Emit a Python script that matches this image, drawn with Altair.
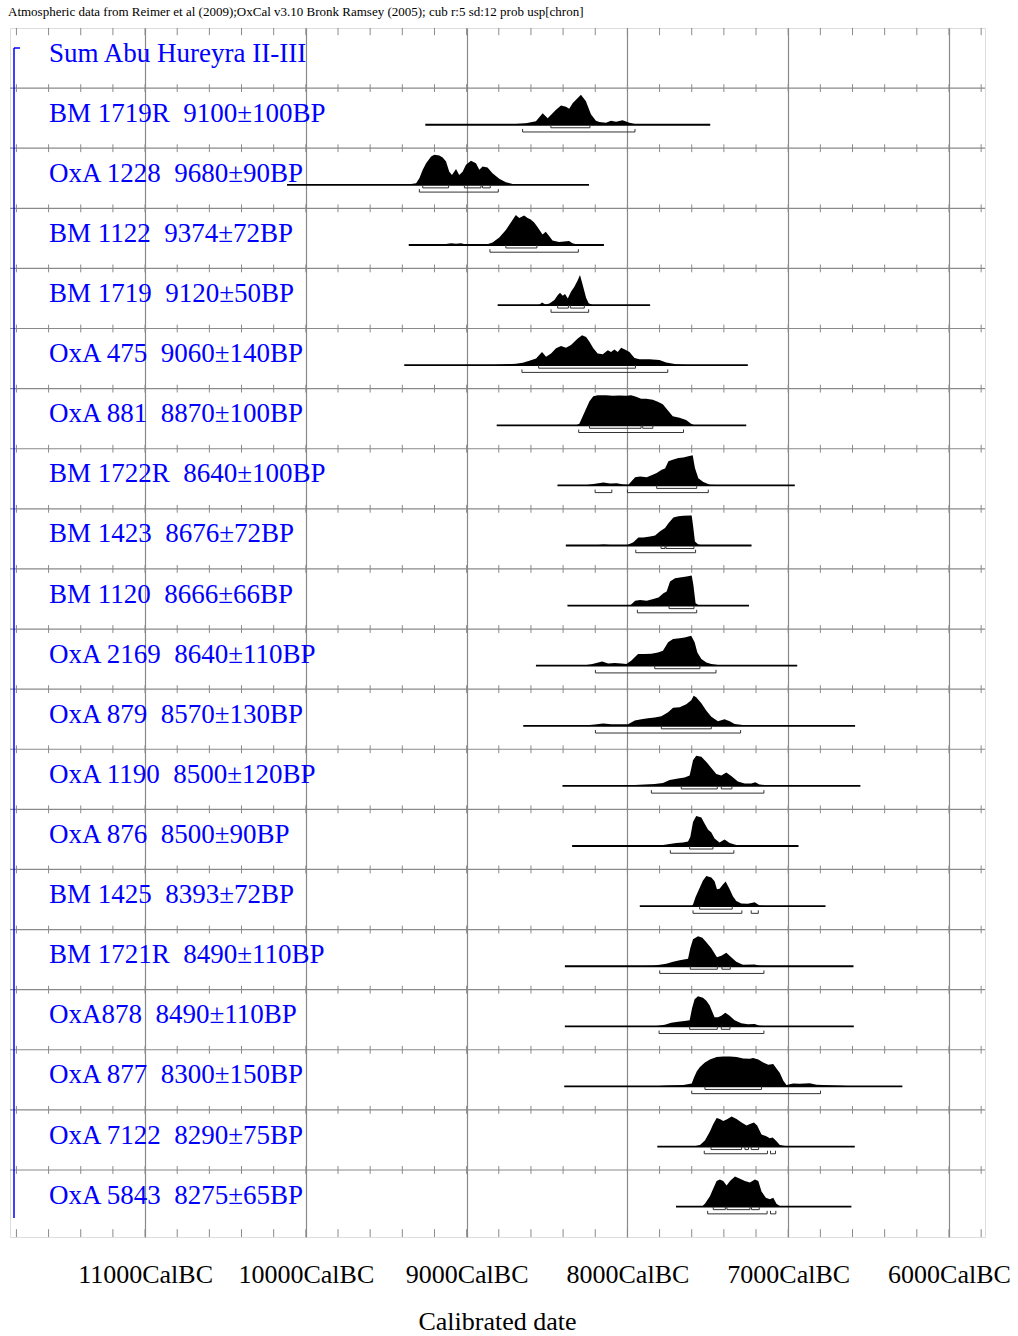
import altair as alt
import pandas as pd

SERIF = "Liberation Serif"
BLUE = "#0000ff"
GRID = "#8a8a8a"

header = ("Atmospheric data from Reimer et al (2009);OxCal v3.10 Bronk Ramsey (2005); "
          "cub r:5 sd:12 prob usp[chron]")

labels = [
    "Sum Abu Hureyra II-III",
    "BM 1719R\u00a0\u00a09100±100BP",
    "OxA 1228\u00a0\u00a09680±90BP",
    "BM 1122\u00a0\u00a09374±72BP",
    "BM 1719\u00a0\u00a09120±50BP",
    "OxA 475\u00a0\u00a09060±140BP",
    "OxA 881\u00a0\u00a08870±100BP",
    "BM 1722R\u00a0\u00a08640±100BP",
    "BM 1423\u00a0\u00a08676±72BP",
    "BM 1120\u00a0\u00a08666±66BP",
    "OxA 2169\u00a0\u00a08640±110BP",
    "OxA 879\u00a0\u00a08570±130BP",
    "OxA 1190\u00a0\u00a08500±120BP",
    "OxA 876\u00a0\u00a08500±90BP",
    "BM 1425\u00a0\u00a08393±72BP",
    "BM 1721R\u00a0\u00a08490±110BP",
    "OxA878\u00a0\u00a08490±110BP",
    "OxA 877\u00a0\u00a08300±150BP",
    "OxA 7122\u00a0\u00a08290±75BP",
    "OxA 5843\u00a0\u00a08275±65BP",
]

# calendar axis (years BC)
major_bc = [11000, 10000, 9000, 8000, 7000, 6000]
minor_bc = list(range(11800, 5700, -200))
view_bc = [11840, 5776]

# ---- calibrated probability curves: years BC, relative probability ----
bm1719r_bc = [8800, 8735, 8631, 8569, 8527, 8496, 8444, 8413, 8382, 8362, 8341, 8289, 8258,
              8227, 8196, 8175, 8133, 8102, 8071, 8030, 7988, 7947, 7843]
bm1719r_p = [0, .01, .05, .12, .38, .22, .50, .64, .60, .53, .72, 1.0, .78,
             .35, .13, .09, .07, .13, .10, .15, .07, .02, 0]
bm1719r_span = [9257, 7485]
bm1719r_r68 = [(8476, 8233)]
bm1719r_r95 = [(8652, 7953)]

oxa1228_bc = [9377, 9314, 9294, 9273, 9252, 9221, 9201, 9170, 9149, 9128, 9108, 9091, 9066,
              9046, 9025, 9004, 8973, 8942, 8921, 8901, 8870, 8839, 8797, 8756, 8714, 8652]
oxa1228_p = [0, .05, .22, .50, .72, .94, 1.0, .98, .91, .78, .44, .33, .53,
             .33, .44, .67, .80, .72, .50, .61, .58, .39, .20, .09, .03, 0]
oxa1228_span = [10117, 8239]
oxa1228_r68 = [(9273, 9112), (9014, 8911), (8901, 8853)]
oxa1228_r95 = [(9294, 8803)]

bm1122_bc = [9160, 9128, 9097, 9066, 9035, 9004, 8960, 8921, 8880, 8839, 8797, 8756, 8725,
             8694, 8673, 8642, 8621, 8601, 8580, 8559, 8528, 8508, 8487, 8466, 8425, 8363,
             8342, 8301]
bm1122_p = [0, .03, .06, .04, .06, .02, .01, .03, .01, .08, .25, .50, .75,
            1.0, .90, .98, .90, .85, .75, .60, .35, .44, .30, .15, .10, .13,
            .06, 0]
bm1122_span = [9360, 8146]
bm1122_r68 = [(8756, 8563)]
bm1122_r95 = [(8855, 8305)]

bm1719_bc = [8560, 8548, 8531, 8510, 8485, 8454, 8434, 8419, 8402, 8388, 8371, 8351, 8330,
             8309, 8295, 8278, 8257, 8241, 8216]
bm1719_p = [0, .01, .09, .02, .05, .17, .33, .41, .31, .37, .22, .44, .61,
            .83, 1.0, .67, .24, .06, 0]
bm1719_span = [8807, 7859]
bm1719_r68 = [(8434, 8367), (8355, 8268)]
bm1719_r95 = [(8475, 8241)]

oxa475_bc = [8859, 8776, 8693, 8651, 8610, 8568, 8531, 8506, 8475, 8444, 8413, 8382, 8351,
             8330, 8309, 8282, 8257, 8236, 8212, 8185, 8153, 8122, 8102, 8081, 8060, 8039,
             8019, 7987, 7956, 7925, 7863, 7801, 7759, 7697, 7614]
oxa475_p = [0, .02, .05, .08, .15, .22, .44, .28, .39, .56, .64, .58, .67,
            .78, .89, 1.0, .94, .78, .56, .39, .36, .50, .44, .52, .44, .58,
            .53, .44, .24, .20, .20, .17, .09, .03, 0]
oxa475_span = [9388, 7251]
oxa475_r68 = [(8552, 7950)]
oxa475_r95 = [(8656, 7749)]

oxa881_bc = [8319, 8299, 8278, 8257, 8236, 8212, 8185, 8133, 8091, 8050, 8008, 7977, 7946,
             7915, 7884, 7842, 7811, 7780, 7749, 7718, 7676, 7635, 7604, 7583]
oxa881_p = [0, .05, .30, .55, .80, .97, 1.0, 1.0, .98, .99, .98, 1.0, .95,
            .88, .88, .85, .78, .70, .50, .30, .25, .18, .05, 0]
oxa881_span = [8813, 7261]
oxa881_r68 = [(8236, 7915), (7905, 7842)]
oxa881_r95 = [(8303, 7651)]

bm1722r_bc = [8273, 8211, 8149, 8108, 8066, 8025, 7994, 7973, 7952, 7921, 7880, 7839, 7818,
              7787, 7766, 7745, 7714, 7683, 7652, 7621, 7594, 7580, 7559, 7528, 7487, 7445,
              7362]
bm1722r_p = [0, .05, .10, .06, .07, .03, .02, .15, .27, .30, .27, .36, .41,
             .52, .56, .80, .86, .91, .93, .97, 1.0, .58, .24, .11, .02, .01,
             0]
bm1722r_span = [8435, 6959]
bm1722r_r68 = [(7818, 7569)]
bm1722r_r95 = [(8201, 8097), (8000, 7497)]

bm1423_bc = [8211, 8149, 8087, 8004, 7963, 7932, 7901, 7859, 7828, 7797, 7766, 7745, 7714,
             7683, 7652, 7611, 7600, 7590, 7580, 7559, 7528]
bm1423_p = [0, .03, .01, .01, .11, .27, .27, .30, .33, .47, .58, .74, .93,
            .97, .99, 1.0, 1.0, .58, .13, .03, 0]
bm1423_span = [8383, 7228]
bm1423_r68 = [(7791, 7766), (7760, 7586)]
bm1423_r95 = [(7948, 7576)]

bm1120_bc = [7983, 7952, 7921, 7880, 7839, 7807, 7776, 7756, 7735, 7704, 7663, 7632, 7600,
             7590, 7576, 7559, 7528]
bm1120_p = [0, .16, .19, .16, .22, .27, .41, .47, .80, .91, .94, .97, 1.0,
            .69, .08, .02, 0]
bm1120_span = [8373, 7244]
bm1120_r68 = [(7741, 7586)]
bm1120_r95 = [(7938, 7569)]

oxa2169_bc = [8286, 8224, 8157, 8120, 8079, 8037, 8006, 7975, 7934, 7892, 7851, 7810, 7779,
              7747, 7716, 7675, 7644, 7603, 7582, 7565, 7540, 7509, 7478, 7437, 7375]
oxa2169_p = [0, .05, .14, .07, .09, .07, .06, .17, .39, .39, .40, .44, .50,
             .78, .89, .91, .94, 1.0, .78, .44, .22, .11, .06, .02, 0]
oxa2169_span = [8569, 6944]
oxa2169_r68 = [(7830, 7549)]
oxa2169_r95 = [(8199, 7449)]

oxa879_bc = [8286, 8203, 8151, 8099, 8037, 7996, 7954, 7913, 7872, 7830, 7789, 7747, 7716,
             7675, 7634, 7603, 7588, 7572, 7540, 7509, 7478, 7437, 7396, 7364, 7333, 7271,
             7168]
oxa879_p = [0, .04, .08, .05, .05, .05, .18, .22, .25, .28, .32, .45, .60,
            .62, .72, .85, 1.0, .95, .75, .50, .30, .15, .22, .15, .06, .02,
            0]
oxa879_span = [8648, 6584]
oxa879_r68 = [(7789, 7478)]
oxa879_r95 = [(8199, 7296)]

oxa1190_bc = [8079, 7954, 7830, 7779, 7737, 7685, 7644, 7613, 7592, 7572, 7540, 7509, 7478,
              7447, 7416, 7385, 7354, 7313, 7271, 7230, 7205, 7178, 7126, 7044]
oxa1190_p = [0, .03, .06, .10, .20, .25, .28, .35, .85, 1.0, .97, .80, .60,
             .40, .35, .45, .33, .15, .08, .08, .12, .05, .02, 0]
oxa1190_span = [8404, 6551]
oxa1190_r68 = [(7665, 7441), (7416, 7350)]
oxa1190_r95 = [(7851, 7151)]

oxa876_bc = [7820, 7758, 7696, 7654, 7623, 7609, 7592, 7572, 7540, 7520, 7499, 7478, 7458,
             7427, 7396, 7364, 7323, 7261, 7178]
oxa876_p = [0, .05, .10, .12, .15, .30, .80, 1.0, .95, .75, .55, .45, .25,
            .12, .22, .10, .03, .01, 0]
oxa876_span = [8344, 6936]
oxa876_r68 = [(7613, 7468)]
oxa876_r95 = [(7733, 7338)]

bm1425_bc = [7603, 7592, 7576, 7551, 7530, 7509, 7478, 7458, 7443, 7427, 7406, 7389, 7364,
             7344, 7323, 7292, 7251, 7209, 7178, 7137]
bm1425_p = [0, .05, .30, .60, .85, 1.0, .95, .83, .56, .58, .72, .82, .56,
            .33, .17, .09, .08, .13, .02, 0]
bm1425_span = [7923, 6768]
bm1425_r68 = [(7551, 7348)]
bm1425_r95 = [(7592, 7288), (7230, 7186)]

bm1721r_bc = [7986, 7841, 7758, 7716, 7675, 7623, 7609, 7592, 7561, 7534, 7509, 7478, 7443,
              7416, 7385, 7354, 7323, 7282, 7209, 7178, 7116]
bm1721r_p = [0, .02, .08, .15, .20, .25, .60, .90, 1.0, .95, .80, .60, .30,
             .35, .45, .30, .15, .05, .06, .02, 0]
bm1721r_span = [8389, 6594]
bm1721r_r68 = [(7609, 7441), (7412, 7360)]
bm1721r_r95 = [(7799, 7151)]

oxa878_bc = [7830, 7768, 7727, 7685, 7644, 7613, 7598, 7582, 7561, 7530, 7509, 7489, 7458,
             7437, 7416, 7391, 7364, 7333, 7292, 7251, 7209, 7178, 7126]
oxa878_p = [0, .05, .12, .15, .18, .20, .60, .90, 1.0, .95, .85, .70, .30,
            .30, .35, .45, .35, .20, .10, .07, .08, .02, 0]
oxa878_span = [8389, 6592]
oxa878_r68 = [(7613, 7441), (7416, 7362)]
oxa878_r95 = [(7803, 7151)]

oxa877_bc = [7859, 7756, 7652, 7600, 7586, 7569, 7549, 7518, 7487, 7445, 7404, 7362, 7321,
             7280, 7238, 7218, 7186, 7155, 7124, 7093, 7073, 7052, 7031, 7011, 6969, 6928,
             6866, 6824, 6741, 6659, 6576]
oxa877_p = [0, .03, .05, .10, .30, .50, .65, .80, .90, .98, 1.0, 1.0, .98,
            .93, .92, .95, .90, .80, .72, .75, .60, .45, .20, .05, .10, .09,
            .11, .06, .04, .02, 0]
oxa877_span = [8393, 6290]
oxa877_r68 = [(7518, 7166)]
oxa877_r95 = [(7600, 6799)]

oxa7122_bc = [7590, 7549, 7518, 7487, 7466, 7445, 7425, 7404, 7383, 7352, 7321, 7290, 7259,
              7238, 7213, 7193, 7166, 7139, 7114, 7097, 7077, 7052, 7011, 6948]
oxa7122_p = [0, .05, .20, .50, .75, .95, .92, .85, .90, 1.0, .92, .80, .70,
             .75, .80, .70, .40, .35, .28, .30, .20, .05, .01, 0]
oxa7122_span = [7814, 6586]
oxa7122_r68 = [(7480, 7290), (7269, 7247), (7230, 7184)]
oxa7122_r95 = [(7522, 7129), (7110, 7079)]

oxa5843_bc = [7538, 7518, 7487, 7466, 7445, 7425, 7404, 7383, 7362, 7331, 7300, 7269, 7238,
              7207, 7186, 7166, 7139, 7114, 7093, 7073, 7052, 7011]
oxa5843_p = [0, .10, .35, .60, .85, .90, .85, .70, .85, 1.0, .93, .85, .80,
             .90, .85, .50, .30, .25, .30, .10, .02, 0]
oxa5843_span = [7698, 6607]
oxa5843_r68 = [(7466, 7391), (7381, 7238), (7228, 7180)]
oxa5843_r95 = [(7501, 7131), (7110, 7077)]

samples = [
    (bm1719r_bc, bm1719r_p, bm1719r_span, bm1719r_r68, bm1719r_r95),
    (oxa1228_bc, oxa1228_p, oxa1228_span, oxa1228_r68, oxa1228_r95),
    (bm1122_bc, bm1122_p, bm1122_span, bm1122_r68, bm1122_r95),
    (bm1719_bc, bm1719_p, bm1719_span, bm1719_r68, bm1719_r95),
    (oxa475_bc, oxa475_p, oxa475_span, oxa475_r68, oxa475_r95),
    (oxa881_bc, oxa881_p, oxa881_span, oxa881_r68, oxa881_r95),
    (bm1722r_bc, bm1722r_p, bm1722r_span, bm1722r_r68, bm1722r_r95),
    (bm1423_bc, bm1423_p, bm1423_span, bm1423_r68, bm1423_r95),
    (bm1120_bc, bm1120_p, bm1120_span, bm1120_r68, bm1120_r95),
    (oxa2169_bc, oxa2169_p, oxa2169_span, oxa2169_r68, oxa2169_r95),
    (oxa879_bc, oxa879_p, oxa879_span, oxa879_r68, oxa879_r95),
    (oxa1190_bc, oxa1190_p, oxa1190_span, oxa1190_r68, oxa1190_r95),
    (oxa876_bc, oxa876_p, oxa876_span, oxa876_r68, oxa876_r95),
    (bm1425_bc, bm1425_p, bm1425_span, bm1425_r68, bm1425_r95),
    (bm1721r_bc, bm1721r_p, bm1721r_span, bm1721r_r68, bm1721r_r95),
    (oxa878_bc, oxa878_p, oxa878_span, oxa878_r68, oxa878_r95),
    (oxa877_bc, oxa877_p, oxa877_span, oxa877_r68, oxa877_r95),
    (oxa7122_bc, oxa7122_p, oxa7122_span, oxa7122_r68, oxa7122_r95),
    (oxa5843_bc, oxa5843_p, oxa5843_span, oxa5843_r68, oxa5843_r95),
]

# ---- layout in row units (row 0 = the Sum header row) ----
N_ROWS = len(labels)
Y_END = N_ROWS + 0.115          # last row is a little deeper
BASE = 0.61                     # curve baseline inside a row
PEAK = 0.50                     # height of a curve at probability 1
R68, R95 = 0.66, 0.73           # range bar levels
LABEL_Y = 0.56

# tables for the marks (calendar years as signed values, BC < 0)
dens = pd.DataFrame([
    {"row": i, "yr": -b, "p": v}
    for i, (bc, p, *_rest) in enumerate(samples, start=1)
    for b, v in zip(bc, p)
])
spans = pd.DataFrame([
    {"row": i, "x0": -s[2][0], "x1": -s[2][1]} for i, s in enumerate(samples, start=1)
])
seg_rows = []
for i, (_bc, _p, _span, r68, r95) in enumerate(samples, start=1):
    for ranges, lvl in ((r68, R68), (r95, R95)):
        for a, b in ranges:
            y = i + lvl
            seg_rows.append({"x": -a, "x2": -b, "y": y, "y2": y})
            seg_rows.append({"x": -a, "x2": -a, "y": y, "y2": y - 0.05})
            seg_rows.append({"x": -b, "x2": -b, "y": y, "y2": y - 0.05})
segs = pd.DataFrame(seg_rows)

seps = pd.DataFrame({"k": list(range(1, N_ROWS))})
tick_rows = []
for t in minor_bc:
    tick_rows.append({"tx": -t, "ty": 0, "ty2": 0.12})
    tick_rows.append({"tx": -t, "ty": Y_END - 0.13, "ty2": Y_END})
    for k in range(1, N_ROWS):
        tick_rows.append({"tx": -t, "ty": k - 0.065, "ty2": k + 0.065})
ticks = pd.DataFrame(tick_rows)

lab = pd.DataFrame({"row": list(range(N_ROWS)), "label": labels})

xs = alt.Scale(domain=[-view_bc[0], -view_bc[1]], nice=False, zero=False)
ys = alt.Scale(domain=[0, Y_END], reverse=True, nice=False, zero=False)

x_axis = alt.Axis(
    values=[-v for v in major_bc], grid=True, gridColor=GRID, gridWidth=1.2,
    ticks=False, domain=False,
    labelExpr="(-datum.value) + 'CalBC'", labelFont=SERIF, labelFontSize=26,
    labelColor="black", labelBaseline="alphabetic", labelPadding=45,
    labelFlush=False, labelOverlap=False, labelBound=False,
    title="Calibrated date", titleFont=SERIF, titleFontSize=26,
    titleFontWeight="normal", titleColor="black", titleX=487, titleY=92,
    titleBaseline="alphabetic", titleAlign="center",
)


def X(field):
    return alt.X(field, type="quantitative", scale=xs, axis=x_axis)


def Y(field):
    return alt.Y(field, type="quantitative", scale=ys, axis=None, stack=None)


sep_layer = alt.Chart(seps).mark_rule(color=GRID, strokeWidth=1.2).encode(y=Y("k"))

tick_layer = alt.Chart(ticks).mark_rule(color=GRID, strokeWidth=1).encode(
    x=X("tx"), y=Y("ty"), y2="ty2")

area_layer = alt.Chart(dens).transform_calculate(
    base=f"datum.row + {BASE}",
    top=f"datum.row + {BASE} - {PEAK} * datum.p",
).mark_area(color="black", interpolate="linear").encode(
    x=X("yr"), y=Y("top"), y2="base:Q", detail="row:N")

span_layer = alt.Chart(spans).transform_calculate(
    ly=f"datum.row + {BASE}"
).mark_rule(color="black", strokeWidth=1.8).encode(x=X("x0"), x2="x1:Q", y=Y("ly"))

range_layer = alt.Chart(segs).mark_rule(color="#333333", strokeWidth=1).encode(
    x=X("x"), x2="x2:Q", y=Y("y"), y2="y2:Q")

label_layer = alt.Chart(lab).transform_calculate(
    ly=f"datum.row + {LABEL_Y}"
).mark_text(align="left", baseline="alphabetic", font=SERIF, fontSize=27,
            color=BLUE).encode(x=alt.value(39), y=Y("ly"), text="label:N")

one = pd.DataFrame({"t": [header]})
group_bar = alt.Chart(one).mark_rule(color=BLUE, strokeWidth=1.5).encode(
    x=alt.value(4), y=alt.value(20), y2=alt.value(1190))
group_cap = alt.Chart(one).mark_rule(color=BLUE, strokeWidth=1.5).encode(
    x=alt.value(4), x2=alt.value(10), y=alt.value(20))

head_layer = alt.Chart(one).mark_text(
    align="left", baseline="alphabetic", font=SERIF, fontSize=13, color="black"
).encode(x=alt.value(-2), y=alt.value(-12), text="t:N")

chart = alt.layer(
    sep_layer, tick_layer, area_layer, span_layer, range_layer,
    label_layer, group_bar, group_cap, head_layer,
).properties(
    width=975, height=1209,
    autosize=alt.AutoSizeParams(type="none"),
    padding={"left": 10, "top": 28, "right": 33, "bottom": 99},
).configure_view(stroke="#555555", strokeWidth=1.2).configure(background="white")

chart.save("out.html", embed_options={"renderer": "svg", "actions": False})
